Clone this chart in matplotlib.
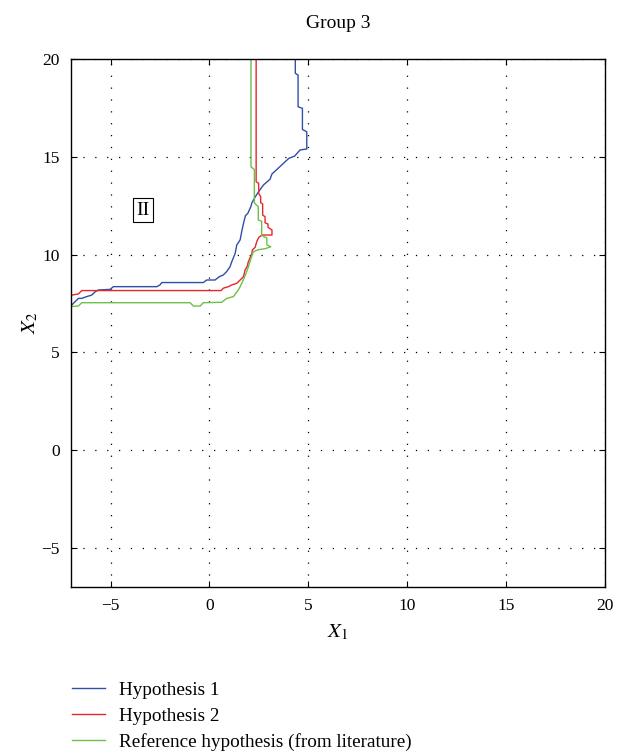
import numpy as np
import matplotlib.pyplot as plt

plt.rcParams['font.family'] = ['Liberation Serif', 'DejaVu Serif']
plt.rcParams['mathtext.fontset'] = 'stix'

# boundary of hypothesis 1 (blue)
h1_x = [4.34, 4.34, 4.48, 4.48, 4.70, 4.70, 4.92, 4.92, 4.58, 4.31, 4.01, 3.16, 3.06, 2.73,
        2.52, 2.32, 2.15, 2.09, 1.94, 1.82, 1.72, 1.63, 1.55, 1.38, 1.30, 1.13, 1.04, 0.87,
        0.70, 0.50, 0.28, -0.14, -0.31, -2.41, -2.50, -2.66, -4.86, -5.02, -5.61, -5.78,
        -5.95, -6.21, -6.46, -6.62, -6.88, -7.0]
h1_y = [20.0, 19.27, 19.18, 17.56, 17.48, 16.40, 16.28, 15.40, 15.35, 15.04, 14.92, 14.12,
        13.85, 13.56, 13.27, 12.96, 12.66, 12.45, 12.11, 11.99, 11.60, 11.17, 10.75, 10.49,
        10.06, 9.64, 9.38, 9.13, 8.96, 8.87, 8.70, 8.70, 8.57, 8.57, 8.45, 8.36, 8.36, 8.22,
        8.19, 8.10, 7.93, 7.85, 7.76, 7.76, 7.51, 7.37]

# hypothesis 2 (red)
h2_x = [2.36, 2.36, 2.49, 2.49, 2.59, 2.59, 2.69, 2.69, 2.81, 2.81, 2.96, 2.96, 3.16, 3.16,
        2.66, 2.49, 2.39, 2.31, 2.17, 2.14, 2.04, 1.95, 1.92, 1.80, 1.72, 1.55, 1.38, 1.13,
        0.96, 0.70, 0.59, -6.46, -6.62, -7.0]
h2_y = [20.0, 13.73, 13.64, 13.13, 12.96, 12.65, 12.59, 12.02, 11.94, 11.63, 11.56, 11.39,
        11.26, 11.00, 11.00, 10.88, 10.66, 10.37, 10.24, 10.03, 9.81, 9.59, 9.42, 9.21, 8.87,
        8.70, 8.53, 8.45, 8.36, 8.28, 8.16, 8.16, 7.99, 7.92]

# reference hypothesis (green)
ref_x = [2.10, 2.10, 2.27, 2.27, 2.47, 2.47, 2.64, 2.64, 2.78, 2.90, 2.90, 3.10, 2.81, 2.47,
         2.22, 2.10, 1.97, 1.85, 1.71, 1.55, 1.46, 1.21, 0.87, 0.62, -0.31, -0.47, -0.81,
         -0.98, -6.46, -6.62, -7.0]
ref_y = [20.0, 14.49, 14.35, 12.64, 12.45, 11.77, 11.70, 11.00, 10.90, 10.85, 10.50, 10.40,
         10.30, 10.25, 10.15, 9.81, 9.38, 9.04, 8.70, 8.36, 8.19, 7.85, 7.76, 7.56, 7.54,
         7.37, 7.37, 7.54, 7.54, 7.37, 7.34]

labels = ['Hypothesis 1', 'Hypothesis 2', 'Reference hypothesis (from literature)']
colors = ['#2f4fa8', '#e8262b', '#6cbf4a']

fig = plt.figure(figsize=(6.29, 7.55), dpi=100)
ax = fig.add_axes([0.1129, 0.2225, 0.849, 0.6993])

ax.plot(h1_x, h1_y, color=colors[0], lw=1, label=labels[0])
ax.plot(h2_x, h2_y, color=colors[1], lw=1, label=labels[1])
ax.plot(ref_x, ref_y, color=colors[2], lw=1, label=labels[2])

ax.set_xlim(-7, 20)
ax.set_ylim(-7, 20)
ax.set_xticks([-5, 0, 5, 10, 15, 20])
ax.set_yticks([-5, 0, 5, 10, 15, 20])
ax.set_xticklabels(['\u22125', '0', '5', '10', '15', '20'])
ax.set_yticklabels(['\u22125', '0', '5', '10', '15', '20'])
ax.tick_params(direction='in', labelsize=12.5, length=4, top=True, right=True, pad=8)
ax.grid(True, color='black', linestyle=(0, (1, 8.5)), lw=0.9)
for s in ax.spines.values():
    s.set_linewidth(1)

ax.set_xlabel('$X_1$', fontsize=15, labelpad=6)
ax.set_ylabel('$X_2$', fontsize=15, labelpad=1)
ax.set_title('Group 3', fontsize=14, pad=22)

ax.text(-3.36, 12.28, 'II', fontsize=14, ha='center', va='center',
        bbox=dict(boxstyle='square,pad=0.18', fc='white', ec='black', lw=0.8))

fig.legend(loc='upper left', bbox_to_anchor=(0.103, 0.108), frameon=False, fontsize=13.8,
           handlelength=1.7, handletextpad=0.75, labelspacing=0.45, borderaxespad=0)

fig.savefig('out.png', dpi=100)
